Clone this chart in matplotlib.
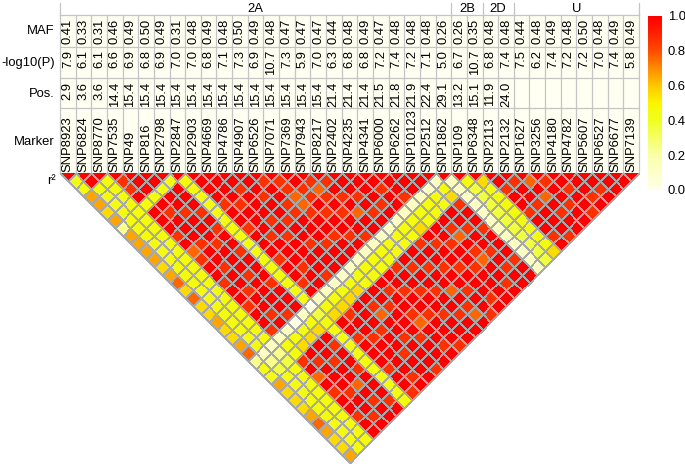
import numpy as np
import matplotlib
matplotlib.use("Agg")
import matplotlib.pyplot as plt
from matplotlib import colors
from matplotlib.patches import Rectangle
from matplotlib.transforms import Affine2D

plt.rcParams["font.family"] = ["Liberation Sans", "DejaVu Sans"]

MARKERS = ["SNP8923", "SNP6824", "SNP8770", "SNP7535", "SNP49", "SNP816", "SNP2798",
           "SNP2847", "SNP2903", "SNP4669", "SNP4786", "SNP4907", "SNP6526", "SNP7071",
           "SNP7369", "SNP7943", "SNP8217", "SNP2402", "SNP4235", "SNP4341", "SNP6000",
           "SNP6262", "SNP10123", "SNP2512", "SNP1862", "SNP109", "SNP6348", "SNP2113",
           "SNP2132", "SNP1627", "SNP3256", "SNP4180", "SNP4782", "SNP5607", "SNP6527",
           "SNP6677", "SNP7139"]
MAF = ["0.41", "0.33", "0.31", "0.46", "0.49", "0.50", "0.49", "0.31", "0.48", "0.49",
       "0.48", "0.50", "0.49", "0.48", "0.47", "0.47", "0.47", "0.44", "0.48", "0.49",
       "0.47", "0.48", "0.48", "0.48", "0.26", "0.26", "0.35", "0.48", "0.48", "0.44",
       "0.48", "0.49", "0.48", "0.50", "0.48", "0.49", "0.49"]
LOGP = ["7.9", "6.1", "6.1", "6.6", "6.9", "6.8", "6.9", "7.0", "7.0", "6.8", "7.1",
        "7.3", "6.9", "10.7", "7.3", "5.9", "7.0", "6.3", "6.8", "6.8", "7.2", "7.4",
        "7.2", "7.1", "5.0", "6.7", "10.7", "6.8", "7.4", "7.5", "6.2", "7.4", "7.2",
        "7.2", "7.0", "7.4", "5.8"]
POS = ["2.9", "3.6", "3.6", "14.4", "15.4", "15.4", "15.4", "15.4", "15.4", "15.4",
       "15.4", "15.4", "15.4", "15.4", "15.4", "15.4", "15.4", "21.4", "21.4", "21.4",
       "21.5", "21.8", "21.9", "22.4", "29.1", "13.2", "15.1", "11.9", "24.0",
       "", "", "", "", "", "", "", ""]
GROUPS = ["2A", "2B", "2D", "U"]
GROUP_SIZES = [25, 2, 2, 8]
ROW_LABELS = ["MAF", "-log10(P)", "Pos.", "Marker"]

# r2 level codes: row i holds the pairs (i, j) for j > i
R2_LEVELS = [0.0, 0.12, 0.24, 0.35, 0.45, 0.56, 0.66, 0.76, 0.86, 1.0]
LD_ROWS = [
    "44665 62666 65675 75565 56724 46555 67655 6",
    "9 44444 44444 44444 44444 4 123 44444 44444",
    "44444 44444 44444 44444 4 123 44444 44444",
    "88949 99897 89989 98998 14489 79899 899",
    "99498 99989 98998 99891 45989 99899 89",
    "94998 99989 99899 99804 59989 97989 9",
    "49998 98998 99989 99145 98998 99989",
    "44444 44444 44444 40344 44444 4444",
    "99989 98999 89989 14599 89998 998",
    "99989 99899 98991 45899 89999 89",
    "98999 89899 99814 59998 99899 9",
    "99899 89989 99145 98799 89998",
    "89988 99989 91449 98999 8999",
    "88778 99899 14498 99879 989",
    "98898 99891 44998 99899 98",
    "87898 99814 48998 99899 9",
    "89897 99144 98998 99899",
    "99898 91449 98997 9879",
    "99989 14489 98998 998",
    "98991 45989 98999 89",
    "99814 49989 98999 9",
    "99144 98798 79989",
    "91449 98998 9899",
    "14589 98999 899",
    "11111 11111 11",
    "43333 33333 3",
    "54444 44445",
    "98998 9989",
    "89989 998",
    "79798 99",
    "89989 9",
    "98998",
    "9989",
    "989",
    "99",
    "9",
    "",
]

CMAP_STOPS = [0.0, 0.2, 0.4, 0.5, 0.6, 0.7, 0.8, 0.9, 1.0]
CMAP_COLORS = ["#ffffe8", "#fbffa8", "#eeff20", "#faf500", "#ffc800",
               "#ff8c00", "#ff4c00", "#ff2000", "#ff0000"]

# layout in pixels
W, H = 685, 466
LEFT, CELL = 60, 15.65
HEAD_TOP, TABLE_TOP = 3, 15
ROW_EDGES = [15, 46.7, 77.7, 108.3, 173]
TRI_TOP = 173

n = len(MARKERS)
right = LEFT + CELL * n

fig = plt.figure(figsize=(W / 100, H / 100), dpi=100)
ax = fig.add_axes([0, 0, 1, 1])
ax.set_xlim(0, W)
ax.set_ylim(H, 0)
ax.axis("off")

line_kw = dict(color="#c4c4c4", linewidth=0.9, zorder=2)
fs = 9.4

# table body
ax.add_patch(Rectangle((LEFT, ROW_EDGES[0]), right - LEFT, ROW_EDGES[-1] - ROW_EDGES[0],
                       facecolor="#fffff2", edgecolor="none", zorder=1))
for y in ROW_EDGES[:-1]:
    ax.plot([LEFT, right], [y, y], **line_kw)
for k in range(n + 1):
    x = LEFT + CELL * k
    ax.plot([x, x], [ROW_EDGES[0], ROW_EDGES[-1]], **line_kw)

# group header
edge = 0
bounds = [0]
for size in GROUP_SIZES:
    edge += size
    bounds.append(edge)
for k in bounds:
    x = LEFT + CELL * k
    ax.plot([x, x], [HEAD_TOP, TABLE_TOP], **line_kw)
for g, a, b in zip(GROUPS, bounds[:-1], bounds[1:]):
    ax.text(LEFT + CELL * (a + b) / 2, 8.5, g, ha="center", va="center", fontsize=fs)

# row labels
label_y = [31, 63, 94, 142]
for lab, y in zip(ROW_LABELS, label_y):
    ax.text(55, y, lab, ha="right", va="center", fontsize=fs)
ax.text(56, 181, "r\u00b2", ha="right", va="center", fontsize=fs)

for k in range(n):
    xc = LEFT + CELL * (k + 0.5)
    ax.text(xc, 18.5, MAF[k], rotation=90, ha="center", va="top", fontsize=fs, zorder=3)
    ax.text(xc, 50, LOGP[k], rotation=90, ha="center", va="top", fontsize=fs, zorder=3)
    if POS[k]:
        ax.text(xc, 81.5, POS[k], rotation=90, ha="center", va="top", fontsize=fs, zorder=3)
    ax.text(xc, 172.5, MARKERS[k], rotation=90, ha="center", va="bottom", fontsize=fs, zorder=3)

# LD matrix
r2 = np.ones((n, n))
for i, row in enumerate(LD_ROWS):
    vals = [R2_LEVELS[int(c)] for c in row.replace(" ", "")]
    r2[i, i + 1:] = vals
    r2[i + 1:, i] = vals
C = np.ma.masked_where(np.triu(np.ones((n, n)), 1).astype(bool), r2)

cmap = colors.LinearSegmentedColormap.from_list("ld", list(zip(CMAP_STOPS, CMAP_COLORS)))
h = CELL / 2
rot = Affine2D(np.array([[h, h, LEFT], [-h, h, TRI_TOP], [0, 0, 1]]))
mesh = ax.pcolormesh(np.arange(n + 1), np.arange(n + 1), C, cmap=cmap, vmin=0, vmax=1,
                     edgecolors="#a8a8a8", linewidth=0.45, transform=rot + ax.transData,
                     zorder=2)
mesh.set_clip_path(Rectangle((0, TRI_TOP), W, H - TRI_TOP, transform=ax.transData))
ax.set_xlim(0, W)
ax.set_ylim(H, 0)

# colorbar
cax = fig.add_axes([648 / W, (H - 190) / H, 14 / W, 174 / H])
cb = fig.colorbar(mesh, cax=cax, ticks=[0, 0.2, 0.4, 0.6, 0.8, 1.0])
cb.set_ticklabels(["0.0", "0.2", "0.4", "0.6", "0.8", "1.0"])
cb.outline.set_visible(False)
cax.tick_params(length=0, labelsize=fs, pad=4)

fig.savefig("out.png", dpi=100)
